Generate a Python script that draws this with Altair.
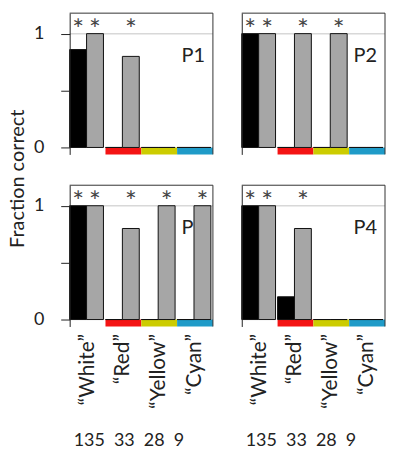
import altair as alt
import pandas as pd

categories = ["\u201cWhite\u201d", "\u201cRed\u201d", "\u201cYellow\u201d", "\u201cCyan\u201d"]
counts = [135, 33, 28, 9]
cat_colors = ["#ffffff", "#f41414", "#cccc00", "#1f9bc8"]
panels = ["P1", "P2", "P3", "P4"]
series = ["black", "gray"]
black_vals = {"P1": [0.86, 0, 0, 0], "P2": [1, 0, 0, 0], "P3": [1, 0, 0, 0], "P4": [1, 0.2, 0, 0]}
gray_vals = {"P1": [1, 0.8, 0, 0], "P2": [1, 1, 1, 0], "P3": [1, 0.8, 1, 1], "P4": [1, 0.8, 0, 0]}
black_stars = {"P1": [1, 0, 0, 0], "P2": [1, 0, 0, 0], "P3": [1, 0, 0, 0], "P4": [1, 0, 0, 0]}
gray_stars = {"P1": [1, 1, 0, 0], "P2": [1, 1, 1, 0], "P3": [1, 1, 1, 1], "P4": [1, 1, 0, 0]}

rows = []
for p in panels:
    for i, c in enumerate(categories):
        rows.append({"panel": p, "cat": c, "series": "black", "value": black_vals[p][i],
                     "star": "*" if black_stars[p][i] else ""})
        rows.append({"panel": p, "cat": c, "series": "gray", "value": gray_vals[p][i],
                     "star": "*" if gray_stars[p][i] else ""})
df = pd.DataFrame(rows)
cat_df = pd.DataFrame({"cat": categories})
one = pd.DataFrame({"k": [0]})

W, H = 144, 142
FONT = "Lato"
NB = "\u00a0"


def panel_chart(p, left, bottom):
    d = df[df.panel == p]
    if bottom:
        xaxis = alt.Axis(title=None, labelAngle=-90, labelFontSize=21, labelFont=FONT,
                         labelColor="#222", domain=False, ticks=False, labelPadding=7)
    else:
        xaxis = None
    x_enc = alt.X("cat:N", scale=alt.Scale(domain=categories, paddingInner=0, paddingOuter=0),
                  axis=xaxis)
    common = dict(values=[0, 0.5, 1], labelExpr="datum.value == 0.5 ? '' : format(datum.value, 'd')",
                  grid=False, domain=True, ticks=True, tickSize=9, tickColor="#222",
                  tickWidth=1, domainColor="#222", domainWidth=1, zindex=1,
                  labelFontSize=18, labelFont=FONT, labelColor="#222", labelPadding=17)
    if left:
        if p == "P1":
            yaxis = alt.Axis(title="Fraction correct", titleFontSize=20, titleFont=FONT,
                             titleFontWeight="normal", titleColor="#222", titleAngle=-90,
                             titleX=-52, titleY=166, titleBaseline="middle", titleAlign="center",
                             **common)
        else:
            yaxis = alt.Axis(title=None, **common)
    else:
        yaxis = alt.Axis(values=[0, 0.5, 1], labels=False, ticks=False, title=None, grid=False,
                         domain=True, domainColor="#222", domainWidth=1, zindex=1)
    y_scale = alt.Scale(domain=[-0.061, 1.18], nice=False, zero=False)
    y_enc = alt.Y("value:Q", scale=y_scale, axis=yaxis)
    xo = alt.XOffset("series:N", scale=alt.Scale(domain=series, paddingInner=0,
                                                 paddingOuter=0.06, align=0))

    bars = alt.Chart(d).mark_bar(stroke="#111", strokeWidth=1).encode(
        x=x_enc, xOffset=xo, y=y_enc,
        color=alt.Color("series:N", scale=alt.Scale(domain=series, range=["#000000", "#a6a6a6"]),
                        legend=None))
    grid1 = alt.Chart(one).mark_rule(color="#d8d8d8", strokeWidth=1.5).encode(
        y=alt.datum(1), x=alt.value(0), x2=alt.value(W))
    label = alt.Chart(pd.DataFrame({"t": [p]})).mark_text(
        align="right", baseline="middle", fontSize=20, font=FONT, color="#222", dx=-8).encode(
        x=alt.value(W), y=alt.datum(0.8), text="t:N")
    cbar = alt.Chart(cat_df).mark_rect().encode(
        x=x_enc, y=alt.datum(0), y2=alt.value(H),
        fill=alt.Fill("cat:N", scale=alt.Scale(domain=categories, range=cat_colors), legend=None))
    stars = alt.Chart(d).mark_text(fontSize=28, font=FONT, color="#444",
                                   baseline="alphabetic").encode(
        x=x_enc, xOffset=xo, y=alt.value(26), text="star:N")
    top = alt.Chart(one).mark_rule(color="#333").encode(
        x=alt.value(0), x2=alt.value(W), y=alt.value(0))
    right = alt.Chart(one).mark_rule(color="#333").encode(
        x=alt.value(W), y=alt.value(0), y2=alt.value(H))
    layers = [bars.mark_bar(opacity=0, stroke=None), grid1, label, cbar, bars, stars, top, right]
    if bottom:
        cnt = alt.Chart(pd.DataFrame({"t": [(NB * 2).join(str(c) for c in counts)]})).mark_text(
            align="left", baseline="middle", fontSize=18, font=FONT, color="#222").encode(
            x=alt.value(4), y=alt.value(257), text="t:N")
        layers.append(cnt)
    return alt.layer(*layers).properties(width=W, height=H)


chart = alt.concat(
    panel_chart("P1", True, False), panel_chart("P2", False, False),
    panel_chart("P3", True, True), panel_chart("P4", False, True),
    columns=2, spacing={"row": 31, "column": 29}, bounds="flush",
).properties(
    padding={"left": 0, "top": 3, "right": 0, "bottom": 0}
).configure_view(stroke=None)

chart.save("out.html", embed_options={"renderer": "svg", "actions": False})
